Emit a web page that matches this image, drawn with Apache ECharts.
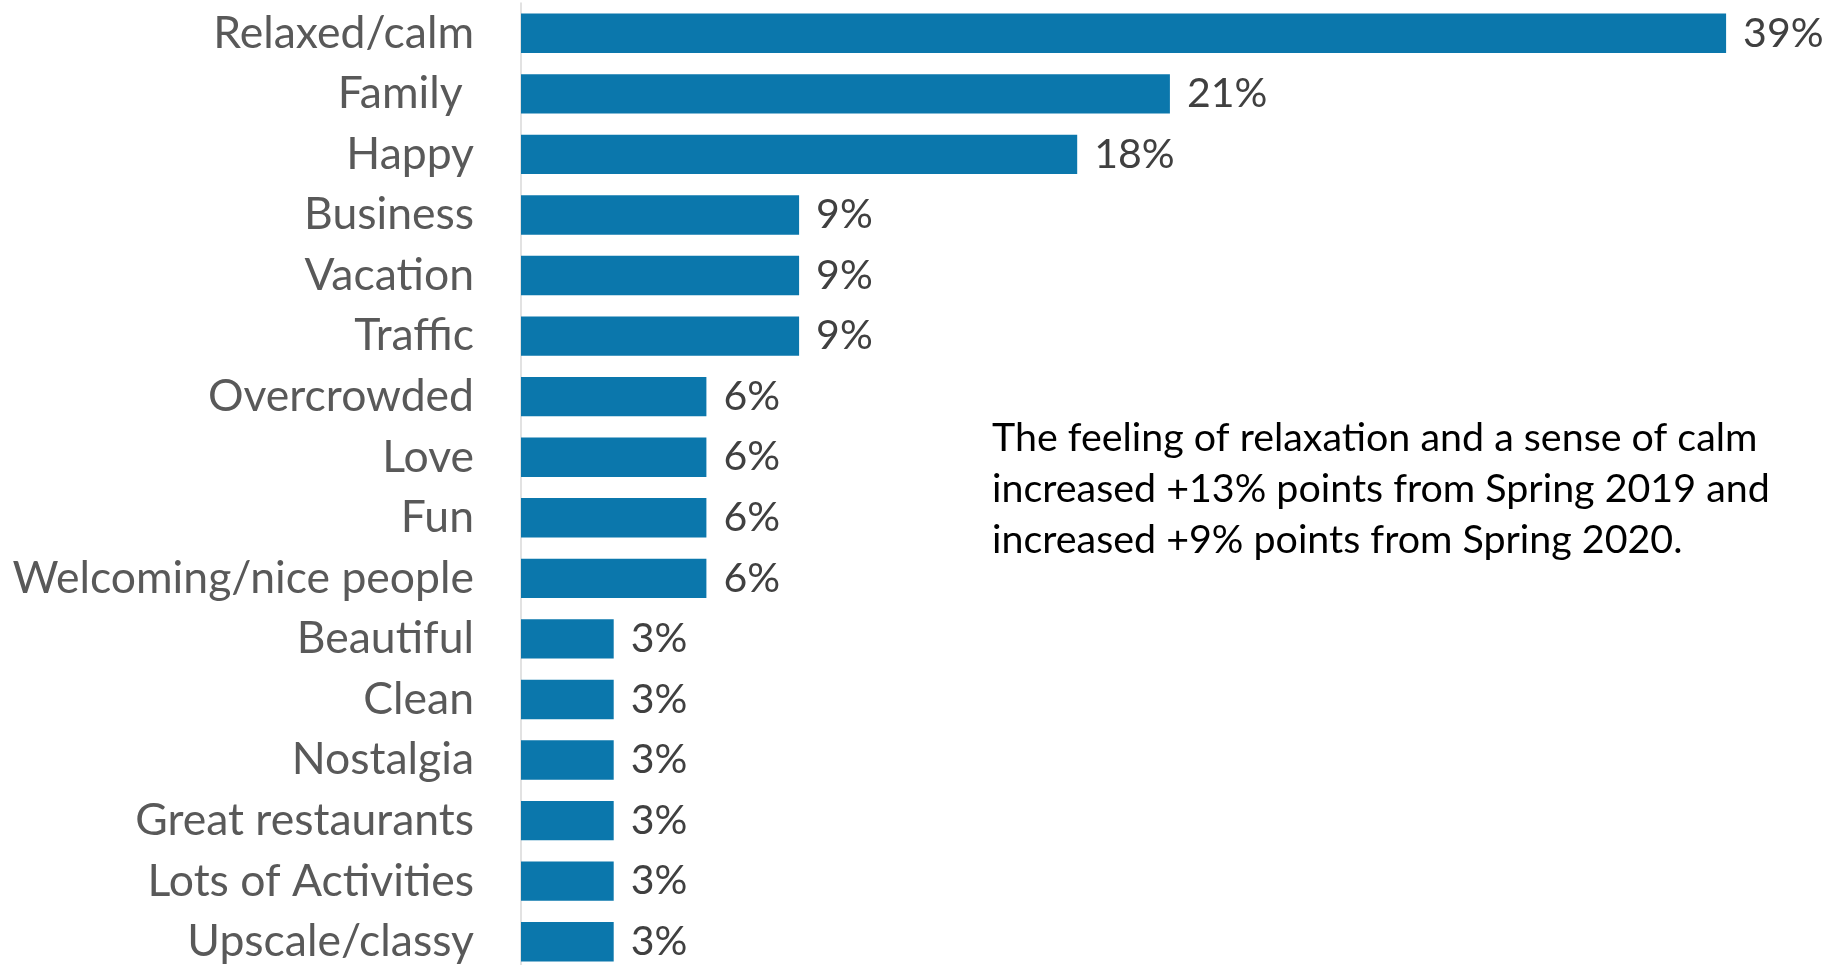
<!DOCTYPE html>
<html>
<head>
<meta charset="utf-8">
<style>
  html, body { margin: 0; padding: 0; background: #ffffff; }
  #chart { width: 1827px; height: 965px; }
</style>
<script src="https://cdn.jsdelivr.net/npm/echarts@6/dist/echarts.min.js"></script>
</head>
<body>
<div id="chart"></div>
<script>
// Words associated with the destination, share of respondents (%)
const categories = [
  'Relaxed/calm', 'Family ', 'Happy', 'Business', 'Vacation', 'Traffic',
  'Overcrowded', 'Love', 'Fun', 'Welcoming/nice people', 'Beautiful',
  'Clean', 'Nostalgia', 'Great restaurants', 'Lots of Activities', 'Upscale/classy'
];
const shares = [39, 21, 18, 9, 9, 9, 6, 6, 6, 6, 3, 3, 3, 3, 3, 3];
const noteLines = [
  'The feeling of relaxation and a sense of calm',
  'increased +13% points from Spring 2019 and',
  'increased +9% points from Spring 2020.'
];

const FONT = 'Lato, "Open Sans", sans-serif';
const chart = echarts.init(document.getElementById('chart'));

chart.setOption({
  animation: false,
  grid: {
    left: 521, top: 3, width: 1236, height: 969,
    containLabel: false, outerBoundsMode: 'none'
  },
  xAxis: {
    type: 'value', min: 0, max: 40,
    show: false
  },
  yAxis: {
    type: 'category',
    data: categories,
    inverse: true,
    axisLine: { show: true, lineStyle: { color: '#d9d9d9', width: 1.5 } },
    axisTick: { show: false },
    axisLabel: {
      color: '#595959', fontFamily: FONT, fontSize: 44.5, margin: 47
    }
  },
  series: [{
    type: 'bar',
    data: shares,
    barCategoryGap: '35%',
    itemStyle: { color: '#0b77ac' },
    label: {
      show: true, position: 'right', distance: 17,
      formatter: p => p.value + '%',
      color: '#404040', fontFamily: FONT, fontSize: 41
    }
  }],
  // Note placed beside the shorter bars
  graphic: noteLines.map((t, i) => ({
    type: 'text',
    left: 992,
    top: 419 + i * 50.7,
    style: { text: t, fill: '#000000', font: '39.4px ' + FONT }
  }))
});
</script>
</body>
</html>
